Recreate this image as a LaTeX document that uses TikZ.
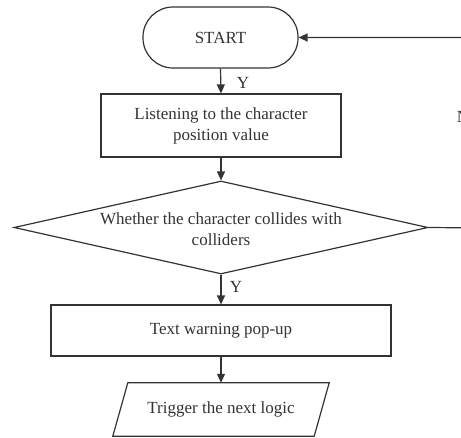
\documentclass[tikz,border=0pt]{standalone}
\usepackage{fontspec}
\setmainfont{Liberation Serif}
\usetikzlibrary{shapes.geometric,arrows.meta}
\definecolor{ink}{HTML}{333333}
\begin{document}
\begin{tikzpicture}[x=1pt,y=-1pt,
  every node/.style={font=\fontsize{17}{21}\selectfont, text=ink},
  line/.style={draw=ink, line width=1.2pt},
  arr/.style={line, -{Triangle[length=9pt,width=8pt]}},
  startbox/.style={line, minimum width=155pt, minimum height=61pt, rounded corners=30pt, inner sep=0pt},
  procbox/.style={line, inner sep=0pt, align=center},
  dia/.style={line, diamond, inner sep=0pt, minimum width=414pt, minimum height=93pt},
  lab/.style={inner sep=0pt}]
\useasboundingbox (0,0) rectangle (461,437);
\clip (0,0) rectangle (461,437);
\node[startbox] (s) at (220.5,37.5) {START};
\node[procbox, minimum width=240pt, minimum height=63pt] (b1) at (221,125.5) {Listening to the character\\position value};
\node[dia] (d) at (221,227.5) {};
\node[lab, align=center] (dt) at (221,229) {Whether the character collides with\\colliders};
\node[procbox, minimum width=340pt, minimum height=51pt] (b2) at (221,330.5) {Text warning pop-up};
\node[minimum width=201pt, minimum height=53pt, inner sep=0pt] (p) at (221,409.5) {Trigger the next logic};
\draw[line] ([xshift=7.5pt]p.north west) -- ([xshift=7.5pt]p.north east) -- ([xshift=-7.5pt]p.south east) -- ([xshift=-7.5pt]p.south west) -- cycle;
\coordinate (c1) at (490,228);
\coordinate (c2) at (490,37.5);
\draw[arr] (s.south) -- (b1.north);
\draw[arr] (b1.south) -- (d.north);
\draw[arr] (d.south) -- (b2.north);
\draw[arr] (b2.south) -- (p.north);
\draw[arr] (d.east) -- (c1) -- (c2) -- (s.east);
\node[lab] (y1) at (243,83) {Y};
\node[lab] (y2) at (236,287) {Y};
\node[lab] (n) at (463,117) {N};
\end{tikzpicture}
\end{document}
